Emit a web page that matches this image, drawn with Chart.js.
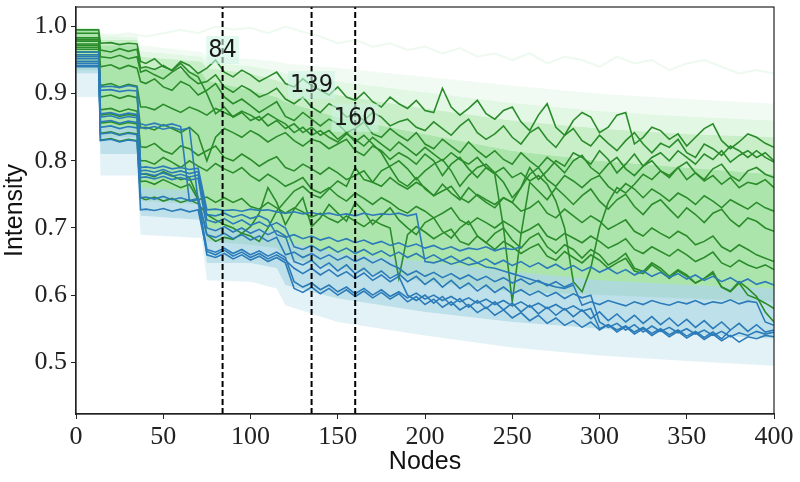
<!DOCTYPE html>
<html>
<head>
<meta charset="utf-8">
<script src="https://cdn.jsdelivr.net/npm/chart.js@4"></script>
<style>
  html, body { margin: 0; padding: 0; background: #fff; }
</style>
</head>
<body>
<canvas id="chart" width="800" height="482"></canvas>
<script>
// node positions shared by the dark lines
const nodes = [0, 13, 14, 20, 25, 30, 35, 37,
  40, 45, 50, 55, 60, 65, 70, 75, 80, 85,
  90, 95, 100, 105, 110, 115, 120, 125, 130, 135,
  140, 145, 150, 155, 160, 165, 170, 175, 180, 185,
  190, 195, 200, 205, 210, 215, 220, 225, 230, 235,
  240, 245, 250, 255, 260, 265, 270, 275, 280, 285,
  290, 295, 300, 305, 310, 315, 320, 325, 330, 335,
  340, 345, 350, 355, 360, 365, 370, 375, 380, 385,
  390, 395, 400];

// dark green runs
const green1 = [0.995,0.995,0.975,0.976,0.973,0.975,0.974,0.948,
  0.945,0.952,0.940,0.935,0.948,0.942,0.930,0.938,0.950,0.932,
  0.925,0.935,0.928,0.918,0.925,0.932,0.915,0.910,0.922,0.912,
  0.905,0.898,0.910,0.895,0.890,0.902,0.888,0.880,0.895,0.885,
  0.878,0.890,0.875,0.872,0.908,0.880,0.868,0.878,0.890,0.870,
  0.862,0.875,0.880,0.858,0.845,0.868,0.885,0.850,0.838,0.860,
  0.872,0.865,0.842,0.850,0.868,0.872,0.825,0.835,0.850,0.845,
  0.832,0.840,0.822,0.835,0.848,0.855,0.830,0.818,0.828,0.840,
  0.835,0.826,0.820];
const green2 = [0.983,0.983,0.955,0.953,0.957,0.952,0.955,0.932,
  0.935,0.928,0.922,0.932,0.940,0.925,0.915,0.918,0.928,0.910,
  0.902,0.912,0.905,0.895,0.900,0.908,0.892,0.885,0.895,0.880,
  0.872,0.885,0.878,0.865,0.870,0.860,0.872,0.865,0.852,0.858,
  0.862,0.850,0.845,0.858,0.848,0.838,0.852,0.862,0.842,0.832,
  0.840,0.852,0.835,0.825,0.842,0.850,0.832,0.820,0.838,0.848,
  0.830,0.822,0.838,0.826,0.815,0.830,0.842,0.825,0.812,0.826,
  0.820,0.832,0.812,0.805,0.825,0.818,0.808,0.822,0.815,0.805,
  0.815,0.805,0.798];
const green3 = [0.978,0.978,0.940,0.943,0.937,0.942,0.938,0.918,
  0.915,0.922,0.910,0.905,0.918,0.912,0.898,0.905,0.915,0.895,
  0.885,0.892,0.882,0.872,0.880,0.888,0.866,0.860,0.872,0.862,
  0.852,0.862,0.855,0.842,0.848,0.858,0.840,0.835,0.848,0.838,
  0.830,0.842,0.825,0.818,0.832,0.822,0.812,0.828,0.815,0.805,
  0.815,0.802,0.795,0.812,0.800,0.790,0.805,0.795,0.782,0.800,
  0.808,0.790,0.780,0.795,0.805,0.788,0.778,0.792,0.800,0.785,
  0.775,0.790,0.798,0.782,0.772,0.788,0.795,0.778,0.770,0.785,
  0.790,0.780,0.775];
const green4 = [0.974,0.974,0.912,0.915,0.910,0.914,0.911,0.880,
  0.880,0.876,0.884,0.878,0.872,0.880,0.875,0.868,0.878,0.872,
  0.866,0.874,0.868,0.860,0.870,0.862,0.855,0.842,0.850,0.838,
  0.845,0.835,0.828,0.840,0.832,0.822,0.835,0.825,0.815,0.828,
  0.818,0.808,0.820,0.810,0.800,0.812,0.802,0.795,0.805,0.790,
  0.782,0.768,0.745,0.760,0.780,0.790,0.772,0.762,0.778,0.770,
  0.760,0.772,0.778,0.762,0.752,0.766,0.758,0.745,0.758,0.750,
  0.740,0.752,0.745,0.735,0.748,0.740,0.730,0.742,0.735,0.728,
  0.738,0.730,0.725];
const green5 = [0.969,0.969,0.895,0.898,0.893,0.897,0.894,0.849,
  0.850,0.846,0.854,0.848,0.842,0.850,0.838,0.800,0.835,0.848,
  0.842,0.835,0.845,0.838,0.828,0.836,0.842,0.830,0.822,0.832,
  0.828,0.818,0.825,0.832,0.815,0.808,0.822,0.815,0.802,0.812,
  0.805,0.795,0.810,0.800,0.778,0.795,0.805,0.788,0.775,0.790,
  0.780,0.700,0.590,0.690,0.768,0.755,0.742,0.760,0.748,0.735,
  0.748,0.758,0.740,0.728,0.742,0.750,0.732,0.720,0.735,0.742,
  0.728,0.715,0.730,0.720,0.708,0.722,0.728,0.712,0.702,0.715,
  0.710,0.700,0.695];
const green6 = [0.966,0.966,0.876,0.878,0.873,0.877,0.874,0.821,
  0.820,0.826,0.815,0.810,0.822,0.818,0.808,0.815,0.822,0.805,
  0.800,0.810,0.802,0.792,0.800,0.806,0.790,0.785,0.795,0.788,
  0.780,0.790,0.782,0.772,0.778,0.785,0.768,0.762,0.775,0.765,
  0.758,0.768,0.760,0.748,0.755,0.762,0.745,0.738,0.750,0.742,
  0.735,0.745,0.738,0.725,0.730,0.740,0.722,0.715,0.728,0.718,
  0.708,0.718,0.710,0.698,0.705,0.712,0.695,0.688,0.700,0.692,
  0.685,0.695,0.688,0.675,0.680,0.688,0.672,0.665,0.675,0.668,
  0.660,0.655,0.650];
const green7 = [0.962,0.962,0.868,0.870,0.866,0.869,0.867,0.800,
  0.800,0.795,0.805,0.798,0.790,0.800,0.792,0.785,0.796,0.788,
  0.782,0.790,0.778,0.770,0.780,0.772,0.762,0.768,0.775,0.758,
  0.752,0.760,0.748,0.740,0.752,0.744,0.735,0.745,0.738,0.728,
  0.722,0.732,0.725,0.715,0.722,0.730,0.712,0.705,0.715,0.708,
  0.700,0.710,0.702,0.692,0.698,0.706,0.688,0.682,0.692,0.685,
  0.678,0.688,0.680,0.670,0.676,0.684,0.668,0.662,0.672,0.665,
  0.658,0.668,0.660,0.650,0.656,0.664,0.648,0.642,0.652,0.645,
  0.640,0.645,0.638];
const green8 = [0.958,0.958,0.856,0.858,0.854,0.857,0.855,0.780,
  0.780,0.776,0.784,0.778,0.772,0.775,0.745,0.690,0.680,0.686,
  0.683,0.692,0.702,0.722,0.760,0.738,0.705,0.728,0.745,0.702,
  0.715,0.735,0.722,0.710,0.738,0.725,0.705,0.718,0.730,0.712,
  0.700,0.690,0.708,0.715,0.695,0.685,0.700,0.710,0.688,0.678,
  0.692,0.700,0.682,0.670,0.685,0.692,0.672,0.662,0.675,0.668,
  0.655,0.668,0.660,0.645,0.652,0.662,0.640,0.635,0.648,0.640,
  0.628,0.638,0.630,0.618,0.625,0.635,0.612,0.605,0.618,0.600,
  0.595,0.588,0.580];
const green9 = [0.980,0.980,0.841,0.843,0.839,0.842,0.840,0.769,
  0.770,0.765,0.772,0.766,0.760,0.765,0.742,0.746,0.738,0.745,
  0.738,0.744,0.732,0.728,0.738,0.730,0.722,0.730,0.724,0.716,
  0.722,0.714,0.708,0.718,0.710,0.702,0.712,0.705,0.700,0.625,
  0.690,0.702,0.694,0.684,0.692,0.698,0.680,0.675,0.688,0.678,
  0.668,0.680,0.672,0.662,0.670,0.676,0.658,0.652,0.665,0.656,
  0.648,0.660,0.652,0.640,0.648,0.655,0.636,0.632,0.645,0.636,
  0.625,0.636,0.628,0.618,0.625,0.632,0.612,0.606,0.620,0.610,
  0.598,0.575,0.560];
const green10 = [0.972,0.972,0.831,0.833,0.829,0.832,0.830,0.745,
  0.742,0.746,0.740,0.744,0.738,0.742,0.736,0.720,0.712,0.705,
  0.700,0.692,0.688,0.680,0.700,0.725,0.740,0.755,0.762,0.750,
  0.745,0.758,0.770,0.762,0.790,0.772,0.768,0.785,0.792,0.800,
  0.788,0.772,0.785,0.795,0.802,0.785,0.762,0.778,0.790,0.795,
  0.782,0.790,0.775,0.782,0.770,0.778,0.765,0.740,0.700,0.620,
  0.605,0.640,0.700,0.738,0.760,0.752,0.765,0.780,0.772,0.785,
  0.778,0.790,0.772,0.782,0.770,0.778,0.765,0.775,0.760,0.768,
  0.765,0.772,0.760];
const green11 = [0.990,0.990,0.965,0.962,0.967,0.963,0.966,0.938,
  0.940,0.936,0.942,0.934,0.945,0.932,0.925,0.900,0.870,0.880,
  0.865,0.872,0.860,0.866,0.852,0.860,0.848,0.855,0.842,0.850,
  0.838,0.845,0.832,0.842,0.828,0.838,0.825,0.812,0.790,0.770,
  0.762,0.775,0.758,0.748,0.765,0.752,0.742,0.760,0.748,0.738,
  0.730,0.745,0.738,0.760,0.790,0.772,0.785,0.800,0.792,0.812,
  0.805,0.795,0.815,0.802,0.782,0.795,0.810,0.792,0.805,0.812,
  0.800,0.815,0.805,0.795,0.810,0.802,0.815,0.798,0.808,0.815,
  0.805,0.812,0.800];

// dark blue runs (some stop early)
const blue1 = [0.962,0.962,0.910,0.911,0.909,0.912,0.910,0.790,
  0.791,0.789,0.792,0.788,0.790,0.787,0.789,0.727,0.728,0.726,
  0.727,0.725,0.728,0.726,0.727,0.724,0.722,0.724,0.721,0.723,
  0.720,0.722,0.719,0.721,0.718,0.722,0.719,0.721,0.720,0.722,
  0.718,0.721,0.650,0.648,0.652,0.646,0.650,0.645,0.648,0.642,
  0.640,0.636,0.632,0.628,0.624,0.620,0.616,0.612,0.610,0.615,
  0.585,0.590,0.586,0.592,0.588,0.584,0.590,0.586,0.592,0.588,
  0.585,0.590,0.587,0.592,0.586,0.590,0.588,0.593,0.587,0.591,
  0.589,0.560,0.555];
const blue2 = [0.958,0.958,0.905,0.906,0.903,0.905,0.904,0.785,
  0.786,0.783,0.787,0.782,0.785,0.781,0.784,0.720,0.718,0.722,
  0.716,0.720,0.714,0.718,0.712,0.690,0.686,0.690,0.684,0.688,
  0.682,0.686,0.680,0.684,0.678,0.682,0.676,0.680,0.674,0.678,
  0.672,0.676,0.670,0.674,0.668,0.672,0.666,0.670,0.668,0.672,
  0.666,0.670,0.668,0.672];
const blue3 = [0.955,0.955,0.870,0.872,0.868,0.871,0.869,0.780,
  0.781,0.778,0.782,0.777,0.780,0.776,0.779,0.712,0.708,0.714,
  0.706,0.712,0.704,0.709,0.702,0.708,0.700,0.672,0.668,0.674,
  0.666,0.672,0.664,0.670,0.662,0.668,0.660,0.666,0.658,0.664,
  0.656,0.662,0.654,0.660,0.652,0.658,0.650,0.656,0.648,0.654,
  0.646,0.652,0.644,0.650,0.642,0.648,0.640,0.646,0.638,0.644,
  0.636,0.642,0.634,0.640,0.632,0.638,0.630,0.636,0.628,0.634,
  0.626,0.632,0.624,0.630,0.622,0.628,0.620,0.626,0.618,0.624,
  0.616,0.620,0.615];
const blue4 = [0.952,0.952,0.865,0.867,0.863,0.866,0.864,0.775,
  0.776,0.773,0.777,0.772,0.775,0.771,0.774,0.700,0.696,0.702,
  0.694,0.700,0.692,0.698,0.690,0.696,0.688,0.650,0.645,0.652,
  0.640,0.648,0.636,0.645,0.632,0.640,0.628,0.636,0.625,0.632,
  0.620,0.628,0.616,0.625,0.612,0.622,0.610,0.618,0.606,0.615,
  0.604,0.612,0.602,0.608,0.600,0.606,0.598,0.604,0.595,0.602,
  0.596,0.600,0.560,0.552,0.558,0.548,0.556,0.545,0.554,0.546,
  0.552,0.544,0.550,0.542,0.548,0.540,0.546,0.538,0.544,0.540,
  0.546,0.542,0.545];
const blue5 = [0.948,0.948,0.858,0.860,0.856,0.859,0.857,0.855,
  0.853,0.856,0.852,0.855,0.851,0.740,0.742,0.668,0.664,0.670,
  0.662,0.668,0.660,0.666,0.658,0.664,0.656,0.620,0.612,0.618,
  0.608,0.615,0.605,0.612,0.602,0.610,0.600,0.608,0.598,0.605,
  0.596,0.603,0.594,0.600,0.592,0.598,0.590,0.596,0.588,0.594,
  0.586,0.592,0.584,0.590,0.582,0.588,0.580,0.586,0.578,0.584,
  0.576,0.580,0.550,0.556,0.548,0.554,0.545,0.552,0.543,0.550,
  0.541,0.548,0.539,0.546,0.537,0.545,0.535,0.548];
const blue6 = [0.945,0.945,0.850,0.852,0.848,0.851,0.849,0.850,
  0.848,0.851,0.847,0.850,0.846,0.849,0.740,0.660,0.656,0.662,
  0.654,0.660,0.652,0.658,0.650,0.656,0.648,0.610,0.604,0.612,
  0.602,0.610,0.600,0.608,0.598,0.606,0.596,0.604,0.594,0.602,
  0.590,0.598,0.586,0.594,0.582,0.590,0.578,0.586,0.574,0.582,
  0.570,0.578,0.566,0.574,0.562,0.570,0.558,0.566,0.555,0.562,
  0.552,0.560,0.548,0.556,0.545,0.553,0.542,0.550,0.540,0.548,
  0.538,0.546,0.536,0.544,0.534,0.542,0.532,0.540,0.530,0.538,
  0.535,0.540,0.538];
const blue7 = [0.942,0.942,0.840,0.842,0.838,0.841,0.839,0.745,
  0.746,0.743,0.747,0.742,0.745,0.741,0.744,0.690,0.686,0.692,
  0.684,0.690,0.682,0.688,0.680,0.686,0.660,0.664,0.656,0.662,
  0.654,0.660,0.652,0.658,0.650,0.656,0.648,0.654,0.646,0.640,
  0.630,0.636,0.628,0.634,0.626,0.632,0.624,0.630,0.622,0.628,
  0.620,0.626,0.618,0.624,0.616,0.622,0.614,0.620,0.612,0.618];
const blue8 = [0.940,0.940,0.830,0.832,0.828,0.831,0.829,0.727,
  0.728,0.726,0.729,0.725,0.728,0.724,0.727,0.665,0.660,0.667,
  0.658,0.664,0.656,0.662,0.654,0.660,0.652,0.640,0.632,0.640,
  0.630,0.638,0.628,0.635,0.625,0.633,0.622,0.630,0.620,0.628,
  0.600,0.592,0.600,0.588,0.598,0.585,0.595,0.582,0.592,0.580,
  0.590,0.578,0.588,0.575,0.585,0.572,0.582,0.570,0.580,0.568,
  0.578,0.565,0.575,0.562,0.572,0.560,0.570,0.558,0.568,0.556,
  0.566,0.554,0.564,0.552,0.562,0.550,0.560,0.548,0.558,0.546,
  0.556,0.545,0.548];

// envelopes of the pale background runs
const bandNodes = [0, 13, 14, 35, 37, 72, 75, 100, 115, 120, 150, 200, 250, 300, 350, 400];
const greenFaintTop = [0.998,0.998,0.990,0.988,0.972,0.962,0.955,0.952,0.948,0.945,0.938,0.925,0.912,0.900,0.892,0.885];
const greenHaze     = [0.997,0.997,0.985,0.984,0.963,0.955,0.946,0.941,0.934,0.930,0.918,0.902,0.886,0.874,0.866,0.860];
const greenTop      = [0.997,0.997,0.980,0.980,0.955,0.948,0.938,0.930,0.920,0.915,0.898,0.878,0.860,0.848,0.840,0.835];
const greenCoreTop  = [0.996,0.996,0.972,0.972,0.940,0.932,0.920,0.905,0.895,0.888,0.865,0.840,0.815,0.800,0.790,0.780];
const greenBottom   = [0.935,0.935,0.835,0.835,0.740,0.735,0.680,0.675,0.670,0.655,0.640,0.620,0.605,0.600,0.595,0.590];
const blueTop       = [0.945,0.945,0.850,0.850,0.760,0.755,0.700,0.700,0.695,0.680,0.662,0.650,0.635,0.622,0.615,0.610];
const blueBottom    = [0.930,0.930,0.810,0.810,0.718,0.712,0.648,0.648,0.640,0.615,0.595,0.575,0.560,0.550,0.542,0.535];
const blueFaintBottom = [0.895,0.895,0.778,0.778,0.690,0.685,0.622,0.620,0.610,0.585,0.560,0.540,0.522,0.510,0.502,0.495];

// single pale run near the top
const outlierNodes = [0,10,20,30,40,50,60,70,80,90,100,110,120,130,140,150,160,170,180,190,200,
  210,220,230,240,250,260,270,280,290,300,310,320,330,340,350,360,370,380,390,400];
const outlier = [0.998,0.990,0.985,0.990,0.985,0.990,0.995,0.990,1.000,0.995,0.998,0.990,1.000,0.992,0.985,0.975,
  0.980,0.970,0.975,0.965,0.970,0.960,0.968,0.955,0.960,0.950,0.960,0.945,0.955,0.950,0.940,0.955,0.945,0.950,
  0.935,0.945,0.950,0.940,0.930,0.935,0.930];

const markers = [84, 135, 160];
const markerLabels = ['84', '139', '160'];

const xTicks = [0, 50, 100, 150, 200, 250, 300, 350, 400];
const yTicks = [0.5, 0.6, 0.7, 0.8, 0.9, 1.0];

const greenRuns = [green1, green2, green3, green4, green5, green6, green7, green8, green9, green10, green11];
const blueRuns = [blue1, blue2, blue3, blue4, blue5, blue6, blue7, blue8];

function pts(xs, ys) {
  return ys.map((y, i) => ({ x: xs[i], y }));
}

const datasets = [];
function band(top, bottom, color, order) {
  const i = datasets.length;
  datasets.push({ data: pts(bandNodes, top), borderWidth: 0, pointRadius: 0, fill: { target: i + 1 }, backgroundColor: color, order });
  datasets.push({ data: pts(bandNodes, bottom), borderWidth: 0, pointRadius: 0, fill: false, order });
}

blueRuns.forEach(r => datasets.push({ data: pts(nodes, r), borderColor: '#2b7bb9', borderWidth: 1.6, pointRadius: 0, fill: false, order: 1 }));
greenRuns.forEach(r => datasets.push({ data: pts(nodes, r), borderColor: '#2b8c2b', borderWidth: 1.6, pointRadius: 0, fill: false, order: 2 }));
band(blueTop, blueBottom, 'rgba(174,216,229,0.8)', 3);
band(blueBottom, blueFaintBottom, 'rgba(208,234,242,0.6)', 4);
band(greenCoreTop, greenBottom, 'rgba(168,228,168,0.95)', 5);
band(greenTop, greenCoreTop, 'rgba(192,236,192,0.85)', 6);
band(greenHaze, greenTop, 'rgba(214,243,216,0.7)', 7);
band(greenFaintTop, greenHaze, 'rgba(232,248,234,0.55)', 8);
datasets.push({ data: pts(outlierNodes, outlier), borderColor: 'rgba(226,245,229,0.6)', borderWidth: 2, pointRadius: 0, fill: false, order: 9 });

const markerPlugin = {
  id: 'markers',
  afterDatasetsDraw(chart) {
    const { ctx, chartArea, scales } = chart;
    const labelY = [0.965, 0.913, 0.864];
    ctx.save();
    markers.forEach(m => {
      const px = scales.x.getPixelForValue(m);
      ctx.strokeStyle = '#000';
      ctx.lineWidth = 2;
      ctx.setLineDash([6, 3]);
      ctx.beginPath();
      ctx.moveTo(px, chartArea.bottom);
      ctx.lineTo(px, chartArea.top);
      ctx.stroke();
    });
    ctx.setLineDash([]);
    ctx.font = '25px "DejaVu Sans Condensed", "DejaVu Sans"';
    ctx.textAlign = 'center';
    ctx.textBaseline = 'middle';
    markers.forEach((m, i) => {
      const px = scales.x.getPixelForValue(m);
      const py = scales.y.getPixelForValue(labelY[i]);
      const w = ctx.measureText(markerLabels[i]).width;
      ctx.fillStyle = 'rgba(205,245,228,0.6)';
      ctx.fillRect(px - w / 2 - 2, py - 14, w + 4, 28);
      ctx.fillStyle = '#1a1a1a';
      ctx.fillText(markerLabels[i], px, py + 1);
    });
    ctx.strokeStyle = '#222';
    ctx.lineWidth = 1.2;
    ctx.strokeRect(chartArea.left, chartArea.top, chartArea.right - chartArea.left, chartArea.bottom - chartArea.top);
    ctx.restore();
  }
};

new Chart(document.getElementById('chart'), {
  type: 'line',
  data: { datasets },
  plugins: [markerPlugin],
  options: {
    responsive: false,
    animation: false,
    devicePixelRatio: 1,
    layout: { padding: { top: 7, right: 26, left: 0, bottom: 0 } },
    plugins: { legend: { display: false }, tooltip: { enabled: false } },
    elements: { line: { tension: 0 } },
    scales: {
      x: {
        type: 'linear', min: 0, max: 400,
        afterBuildTicks: s => { s.ticks = xTicks.map(v => ({ value: v })); },
        afterFit: s => { s.height = 68; s.paddingLeft = 0; s.paddingRight = 0; },
        ticks: { autoSkip: false, maxRotation: 0, padding: 3, color: '#222', font: { family: 'Liberation Serif', size: 26 } },
        grid: { drawOnChartArea: false, tickLength: 5, color: '#222' },
        border: { color: '#222', width: 1.2 },
        title: { display: true, text: 'Nodes', color: '#111', padding: { top: 0, bottom: 5 }, font: { family: 'Liberation Sans', size: 25 } }
      },
      y: {
        min: 0.423, max: 1.029,
        afterBuildTicks: s => { s.ticks = yTicks.map(v => ({ value: v })); },
        afterFit: s => { s.width = 76; s.paddingTop = 0; s.paddingBottom = 0; },
        ticks: { padding: 4, color: '#222', font: { family: 'Liberation Serif', size: 26 }, callback: v => v.toFixed(1) },
        grid: { drawOnChartArea: false, tickLength: 5, color: '#222' },
        border: { color: '#222', width: 1.2 },
        title: { display: true, text: 'Intensity', color: '#111', padding: { top: 0, bottom: 0 }, font: { family: 'Liberation Sans', size: 25 } }
      }
    }
  }
});
</script>
</body>
</html>
